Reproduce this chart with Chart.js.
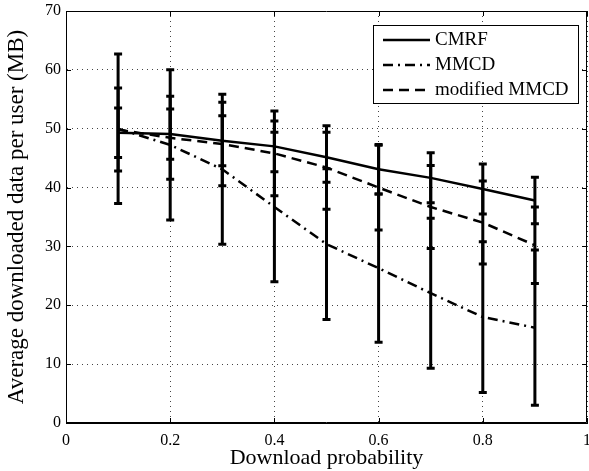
<!DOCTYPE html>
<html>
<head>
<meta charset="utf-8">
<script src="https://cdn.jsdelivr.net/npm/chart.js@4.4.0/dist/chart.umd.min.js"></script>
<style>
  html, body { margin: 0; padding: 0; background: #fff; }
  #wrap { width: 589px; height: 471px; }
</style>
</head>
<body>
<div id="wrap"><canvas id="chart" width="589" height="471"></canvas></div>
<script>
// download probability (x axis)
const probabilities = [0.1, 0.2, 0.3, 0.4, 0.5, 0.6, 0.7, 0.8, 0.9];

// average downloaded data per user (MB) and half-length of each error bar
const cmrfMean = [49.3, 49.1, 47.95, 47.0, 45.15, 43.1, 41.65, 39.75, 37.8];
const cmrfErr  = [4.2, 4.27, 4.25, 4.3, 4.25, 4.2, 4.25, 4.25, 3.95];
const mmcdMean = [50.0, 47.25, 43.1, 36.7, 30.4, 26.3, 22.05, 18.0, 16.2];
const mmcdErr  = [12.7, 12.75, 12.75, 12.7, 12.8, 12.6, 12.75, 12.8, 13.2];
const modMean  = [49.85, 48.45, 47.4, 45.8, 43.4, 40.0, 36.7, 34.05, 30.2];
const modErr   = [7.05, 7.05, 7.1, 7.2, 7.1, 7.2, 7.05, 7.05, 6.5];

const seriesNames = ['CMRF', 'MMCD', 'modified MMCD'];
const xTickValues = [0, 0.2, 0.4, 0.6, 0.8, 1];
const yTickValues = [0, 10, 20, 30, 40, 50, 60, 70];

const serif = "'Liberation Serif', 'Times New Roman', serif";

function toPoints(means) {
    return probabilities.map((p, i) => ({ x: p, y: means[i] }));
}

// keep the plot box where it is: no extra room for overhanging tick labels
function noLabelPadding(s) {
    s.paddingLeft = 0;
    s.paddingRight = 0;
    s.paddingTop = 0;
    s.paddingBottom = 0;
}

// vertical error bars with caps, drawn for every dataset
const errorBars = {
    id: 'errorBars',
    afterDatasetsDraw(chart) {
        const { ctx, scales: { x, y } } = chart;
        ctx.save();
        ctx.strokeStyle = '#000';
        ctx.lineWidth = 3;
        ctx.setLineDash([]);
        chart.data.datasets.forEach(ds => {
            ds.data.forEach((pt, i) => {
                const e = ds.errors[i];
                const px = x.getPixelForValue(pt.x);
                const top = y.getPixelForValue(pt.y + e);
                const bot = y.getPixelForValue(pt.y - e);
                ctx.beginPath();
                ctx.moveTo(px, top);
                ctx.lineTo(px, bot);
                ctx.moveTo(px - 4, top);
                ctx.lineTo(px + 4, top);
                ctx.moveTo(px - 4, bot);
                ctx.lineTo(px + 4, bot);
                ctx.stroke();
            });
        });
        ctx.restore();
    }
};

// closed axes box with inward tick marks
const axesBox = {
    id: 'axesBox',
    afterDraw(chart) {
        const { ctx, chartArea: a, scales: { x, y } } = chart;
        const len = 5;
        ctx.save();
        ctx.strokeStyle = '#000';
        ctx.lineWidth = 1;
        ctx.setLineDash([]);
        ctx.beginPath();
        ctx.rect(a.left + 0.5, a.top + 0.5, a.right - a.left - 1, a.bottom - a.top - 1);
        x.ticks.forEach(t => {
            const px = Math.round(x.getPixelForValue(t.value)) + 0.5;
            ctx.moveTo(px, a.bottom);
            ctx.lineTo(px, a.bottom - len);
            ctx.moveTo(px, a.top);
            ctx.lineTo(px, a.top + len);
        });
        y.ticks.forEach(t => {
            const py = Math.round(y.getPixelForValue(t.value)) + 0.5;
            ctx.moveTo(a.left, py);
            ctx.lineTo(a.left + len, py);
            ctx.moveTo(a.right, py);
            ctx.lineTo(a.right - len, py);
        });
        ctx.stroke();
        ctx.restore();
    }
};

// boxed legend in the upper right corner of the plot area
const boxedLegend = {
    id: 'boxedLegend',
    afterDraw(chart) {
        const { ctx, chartArea: a } = chart;
        const w = 206, h = 79;
        const left = a.right - 8 - w;
        const top = a.top + 14;
        ctx.save();
        ctx.fillStyle = '#fff';
        ctx.fillRect(left, top, w, h);
        ctx.strokeStyle = '#000';
        ctx.lineWidth = 1;
        ctx.strokeRect(left + 0.5, top + 0.5, w - 1, h - 1);
        ctx.font = '19px ' + serif;
        ctx.textBaseline = 'middle';
        chart.data.datasets.forEach((ds, i) => {
            const yy = top + 15 + i * 25;
            ctx.strokeStyle = '#000';
            ctx.lineWidth = ds.borderWidth;
            ctx.setLineDash(ds.borderDash || []);
            ctx.beginPath();
            ctx.moveTo(left + 10, yy);
            ctx.lineTo(left + 57, yy);
            ctx.stroke();
            ctx.setLineDash([]);
            ctx.fillStyle = '#000';
            ctx.fillText(ds.label, left + 62, yy);
        });
        ctx.restore();
    }
};

const ctx = document.getElementById('chart').getContext('2d');
new Chart(ctx, {
    type: 'line',
    data: {
        datasets: [
            {
                label: seriesNames[0],
                data: toPoints(cmrfMean),
                errors: cmrfErr,
                borderColor: '#000',
                borderWidth: 2.5,
                pointRadius: 0,
                tension: 0
            },
            {
                label: seriesNames[1],
                data: toPoints(mmcdMean),
                errors: mmcdErr,
                borderColor: '#000',
                borderWidth: 2.5,
                borderDash: [10, 5, 2, 5],
                pointRadius: 0,
                tension: 0
            },
            {
                label: seriesNames[2],
                data: toPoints(modMean),
                errors: modErr,
                borderColor: '#000',
                borderWidth: 2.5,
                borderDash: [10, 6],
                pointRadius: 0,
                tension: 0
            }
        ]
    },
    options: {
        responsive: false,
        animation: false,
        layout: { padding: { top: 11, right: 2, left: 3, bottom: 0 } },
        plugins: {
            legend: { display: false },
            tooltip: { enabled: false }
        },
        scales: {
            x: {
                type: 'linear',
                min: 0,
                max: 1,
                afterBuildTicks: s => { s.ticks = xTickValues.map(v => ({ value: v })); },
                afterFit: s => { s.height = 48; noLabelPadding(s); },
                grid: { color: '#444', lineWidth: 1, drawTicks: false },
                border: { color: '#000', width: 1, dash: [1, 4] },
                ticks: {
                    color: '#000',
                    font: { family: serif, size: 16 },
                    padding: 8,
                    maxRotation: 0,
                    callback: v => String(v)
                },
                title: {
                    display: true,
                    text: 'Download probability',
                    color: '#000',
                    font: { family: serif, size: 22 },
                    padding: 0
                }
            },
            y: {
                type: 'linear',
                min: 0,
                max: 70,
                afterBuildTicks: s => { s.ticks = yTickValues.map(v => ({ value: v })); },
                afterFit: s => { s.width = 63; noLabelPadding(s); },
                grid: { color: '#444', lineWidth: 1, drawTicks: false },
                border: { color: '#000', width: 1, dash: [1, 4] },
                ticks: {
                    color: '#000',
                    font: { family: serif, size: 16 },
                    padding: 5,
                    callback: v => String(v)
                },
                title: {
                    display: true,
                    text: 'Average downloaded data per user (MB)',
                    color: '#000',
                    font: { family: serif, size: 23 },
                    padding: 0
                }
            }
        }
    },
    plugins: [errorBars, axesBox, boxedLegend]
});
</script>
</body>
</html>
